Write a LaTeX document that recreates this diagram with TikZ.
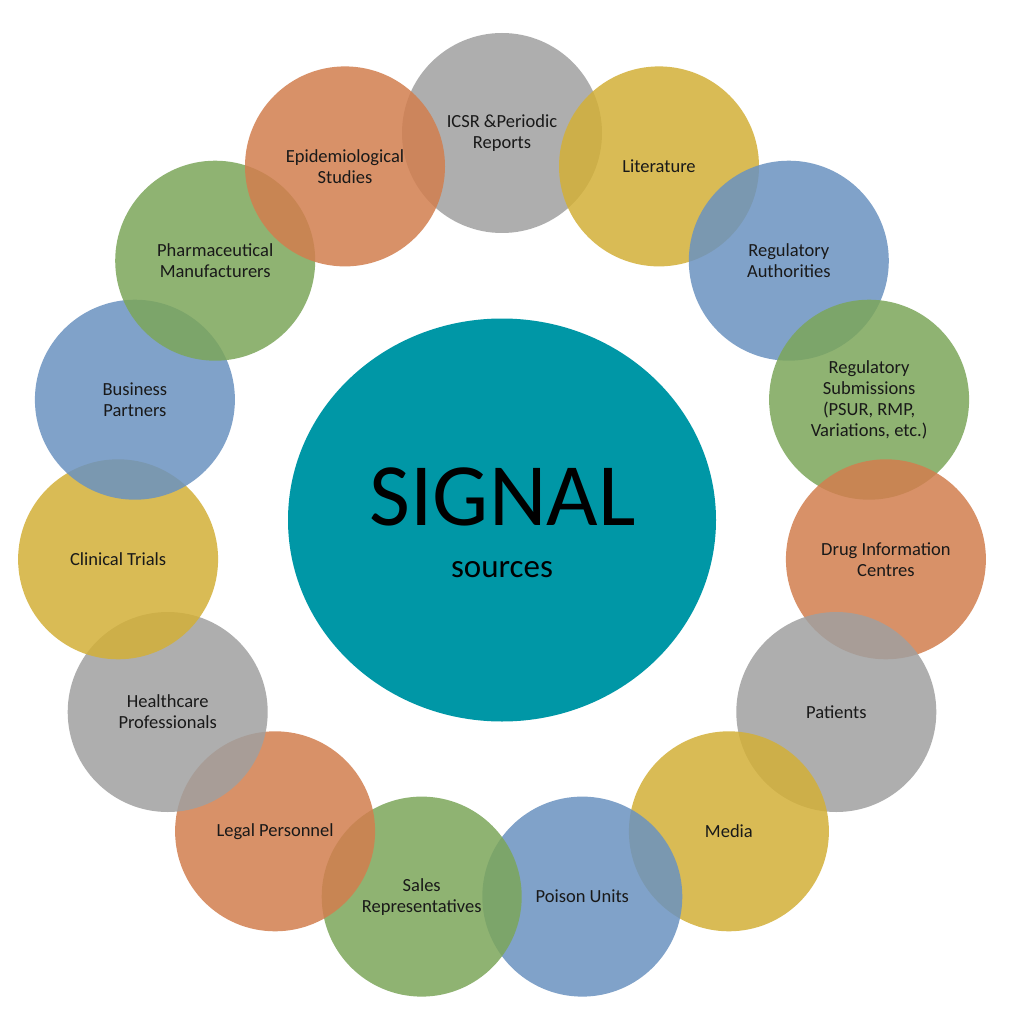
\documentclass[tikz,border=0pt]{standalone}
\usepackage{fontspec}
\setmainfont{Carlito}
\usetikzlibrary{shapes.geometric}
\definecolor{cgray}{RGB}{160,160,160}
\definecolor{cyellow}{RGB}{211,176,56}
\definecolor{cblue}{RGB}{106,146,192}
\definecolor{cgreen}{RGB}{124,166,90}
\definecolor{corange}{RGB}{210,126,78}
\definecolor{cteal}{RGB}{0,151,166}
\definecolor{ctext}{RGB}{25,25,25}
\tikzset{
  src/.style={circle, draw=none, fill=#1, fill opacity=0.85, text opacity=1,
    minimum size=200pt, inner sep=0pt, align=center, text=ctext,
    font=\fontsize{18.5}{21}\selectfont},
  hub/.style={ellipse, draw=none, fill=cteal, minimum width=428pt,
    minimum height=403pt, inner sep=0pt}
}
\begin{document}
\begin{tikzpicture}[x=1pt,y=-1pt]
\useasboundingbox[fill=white] (0,0) rectangle (1016,1024);
\node[hub] (hub) at (502,520) {};
\node[font=\fontsize{89}{89}\selectfont, anchor=base, text=black] (sig) at (502.5,525) {SIGNAL};
\node[font=\fontsize{33}{33}\selectfont, anchor=base, text=black] (srcs) at (502,577) {sources};

\node[src=cgray]   (icsr) at (502,133)     {ICSR \&Periodic\\Reports};
\node[src=cyellow] (lit)  at (659,166.4)   {Literature};
\node[src=cblue]   (ra)   at (788.8,260.7) {Regulatory\\Authorities};
\node[src=cgreen]  (rs)   at (869.1,399.7) {Regulatory\\Submissions\\(PSUR, RMP,\\Variations, etc.)};
\node[src=corange] (dic)  at (885.9,559.3) {Drug Information\\Centres};
\node[src=cgray]   (pat)  at (836.3,712)   {Patients};
\node[src=cyellow] (med)  at (728.9,831.3) {Media};
\node[src=cblue]   (pu)   at (582.3,896.6) {Poison Units};
\node[src=cgreen]  (sr)   at (421.7,896.6) {Sales\\Representatives};
\node[src=corange] (lp)   at (275.1,831.3) {Legal Personnel};
\node[src=cgray]   (hp)   at (167.7,712)   {Healthcare\\Professionals};
\node[src=cyellow] (ct)   at (118.1,559.3) {Clinical Trials};
\node[src=cblue]   (bp)   at (134.9,399.7) {Business\\Partners};
\node[src=cgreen]  (pm)   at (215.2,260.7) {Pharmaceutical\\Manufacturers};
\node[src=corange] (es)   at (345,166.4)   {Epidemiological\\Studies};
\end{tikzpicture}
\end{document}
